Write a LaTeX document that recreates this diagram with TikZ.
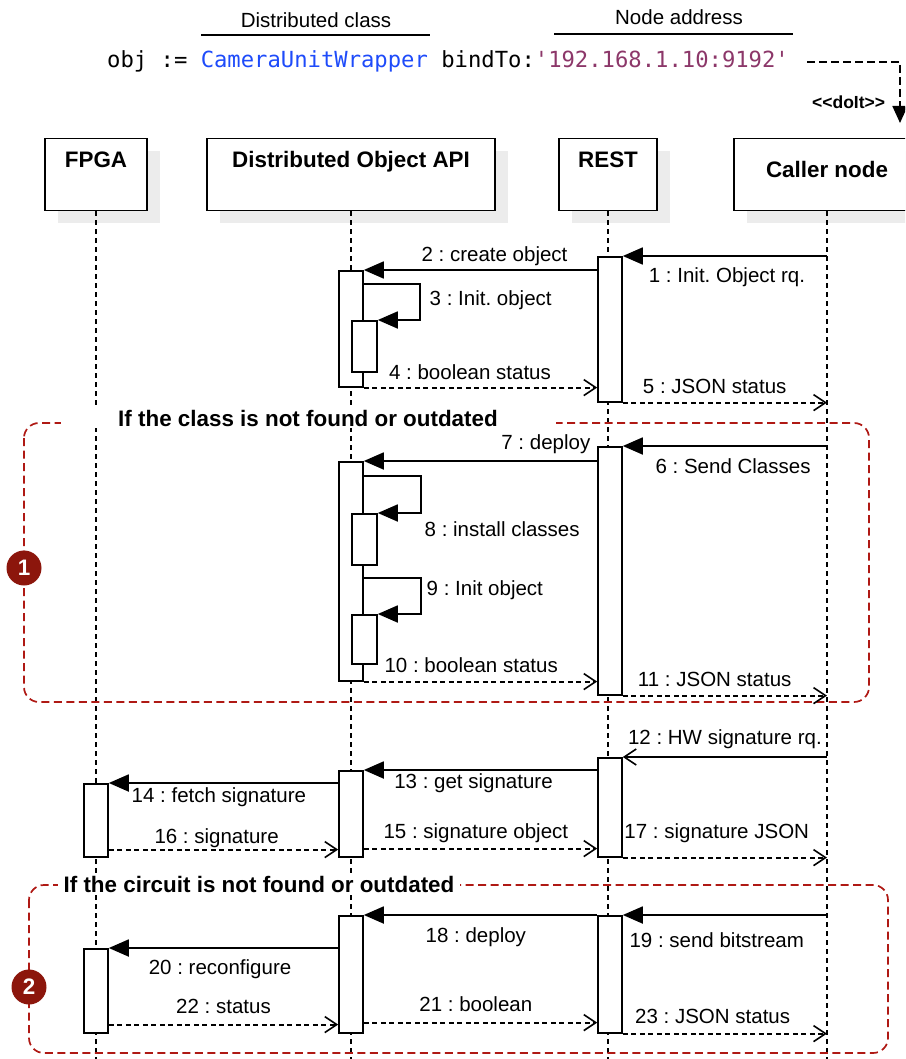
\documentclass[tikz,border=0pt]{standalone}
\usepackage{fontspec}
\setmainfont{Liberation Sans}
\setmonofont{DejaVu Sans Mono}
\usetikzlibrary{arrows.meta,shadows,calc}
\definecolor{clsB}{RGB}{30,75,250}
\definecolor{addrP}{RGB}{140,55,105}
\definecolor{frmR}{RGB}{175,25,20}
\definecolor{bdgR}{RGB}{140,22,12}
\definecolor{shdG}{RGB}{236,236,236}
\newcommand{\lblfont}{\fontsize{20.5}{24}\selectfont}
\newcommand{\hdfont}{\fontsize{22.4}{26}\selectfont\bfseries}
\newcommand{\codefont}{\fontsize{22.2}{26}\selectfont\ttfamily}
\frenchspacing

\begin{document}
\begin{tikzpicture}[
  x=1pt, y=-1pt,
  hdbox/.style={draw, line width=1.2pt, fill=white, font=\hdfont, anchor=north, inner xsep=0pt, inner ysep=0pt,
                text height=29pt, text depth=43pt,
                drop shadow={shadow xshift=13pt, shadow yshift=-12pt, fill=shdG, opacity=1}},
  life/.style={line width=1.3pt, dash pattern=on 5pt off 4pt},
  bar/.style={draw, line width=1.6pt, fill=white, minimum width=24pt, inner sep=0pt, anchor=north},
  nest/.style={bar, minimum width=25pt},
  call/.style={line width=1.8pt, -{Triangle[length=20pt,width=17pt]}},
  ask/.style={line width=1.8pt, -{Straight Barb[length=12pt,width=16pt,line width=1.6pt]}},
  ret/.style={line width=1.8pt, dash pattern=on 5pt off 3.5pt, -{Straight Barb[length=12pt,width=16pt,line width=1.6pt]}},
  lbl/.style={font=\lblfont, inner sep=0pt},
  frm/.style={draw=frmR, line width=1.7pt, dash pattern=on 8pt off 4.5pt, rounded corners=15pt},
  ftitle/.style={font=\hdfont, fill=white, inner xsep=0pt, inner ysep=2pt, anchor=base},
  badge/.style={circle, fill=bdgR, text=white, font=\hdfont, minimum size=35pt, inner sep=0pt},
  uline/.style={line width=1.8pt},
]
\useasboundingbox (0,0) rectangle (905,1059);
\clip (0,0) rectangle (905,1059);

% ---------- code line ----------
\node[lbl] (dcls) at (316,20) {Distributed class};
\draw[uline] (201,35) -- (430,35);
\node[lbl] (addr) at (679,17) {Node address};
\draw[uline] (554,34) -- (793,34);
\node[font=\codefont, anchor=base west, inner sep=0pt] (code) at (107,68)
  {obj := \textcolor{clsB}{CameraUnitWrapper} bindTo:\textcolor{addrP}{'192.168.1.10:9192'}};
\coordinate (doit) at (900,123);
\draw[line width=1.8pt, dash pattern=on 8pt off 4pt, -{Triangle[length=17pt,width=15pt]}]
  ($(code.east)+(18,0)$) -| node[pos=0.83, anchor=east, xshift=-14pt, font=\fontsize{17.5}{20}\selectfont\bfseries, inner sep=0pt]
  {\hbox{<}\hbox{<}doIt\hbox{>}\hbox{>}} (doit);

% ---------- lifelines ----------
\node[hdbox, minimum width=102pt] (fpga) at (96,138) {FPGA};
\node[hdbox, minimum width=288pt] (doa) at (351,138) {Distributed Object API};
\node[hdbox, minimum width=98pt] (rest) at (608,138) {REST};
\node[hdbox, minimum width=186pt, text height=39pt, text depth=33pt] (caller) at (827,138) {Caller node};
\coordinate (bot) at (0,1059);
\foreach \n in {fpga,doa,rest,caller}
  \draw[life] (\n.south) -- (\n.south |- bot);

% ---------- fragments ----------
\draw[frm] (24,423) rectangle (869,702);
\node[ftitle, minimum width=495pt] (t1) at (308,426) {If the class is not found or outdated};
\node[badge] (b1) at (24,568) {1};
\draw[frm] (29,885) rectangle (888,1053);
\node[ftitle, minimum width=402pt] (t2) at (259,892) {If the circuit is not found or outdated};
\node[badge] (b2) at (29,987) {2};

% ---------- activations ----------
\node[bar, minimum height=145pt] (r1) at (610,256) {};
\node[bar, minimum height=116pt] (d1) at (351,270) {};
\node[nest, minimum height=51pt] (d1a) at (364.5,320) {};
\node[bar, minimum height=248pt] (r2) at (610,446) {};
\node[bar, minimum height=219pt] (d2) at (351,461) {};
\node[nest, minimum height=51pt] (d2a) at (364.5,513) {};
\node[nest, minimum height=49pt] (d2b) at (364.5,614) {};
\node[bar, minimum height=99pt] (r3) at (610,757) {};
\node[bar, minimum height=86pt] (d3) at (351,770) {};
\node[bar, minimum height=73pt] (f3) at (96,783) {};
\node[bar, minimum height=117pt] (r4) at (610,915) {};
\node[bar, minimum height=117pt] (d4) at (351,915) {};
\node[bar, minimum height=84pt] (f4) at (96,948) {};

% ---------- messages ----------
\draw[call] (r1.north east -| caller.south) -- node[lbl, pos=0.49, yshift=-21pt] {1 : Init. Object rq.} (r1.north east);
\draw[call] (d1.north east -| r1.west) -- node[lbl, pos=0.44, yshift=14pt] {2 : create object} (d1.north east);
\draw[call] ($(d1.east |- d1a.north)+(0,-36)$) -- ++(56,0) |- node[lbl, pos=0.2, anchor=west, xshift=9pt, yshift=-2pt] {3 : Init. object} (d1a.north east);
\draw[ret] (d1.south east) -- node[lbl, pos=0.455, yshift=15pt] {4 : boolean status} (d1.south east -| r1.west);
\draw[ret] (r1.south east) -- node[lbl, pos=0.45, yshift=16pt] {5 : JSON status} (r1.south east -| caller.south);

\draw[call] (r2.north east -| caller.south) -- node[lbl, pos=0.46, yshift=-20pt] {6 : Send Classes} (r2.north east);
\draw[call] (d2.north east -| r2.west) -- node[lbl, pos=0.22, yshift=17pt] {7 : deploy} (d2.north east);
\draw[call] ($(d2.east |- d2a.north)+(0,-37)$) -- ++(57,0) |- node[lbl, pos=0.5, anchor=west, xshift=3pt, yshift=-16pt] {8 : install classes} (d2a.north east);
\draw[call] ($(d2.east |- d2b.north)+(0,-36)$) -- ++(57,0) |- node[lbl, pos=0.14, anchor=west, xshift=5pt, yshift=-2pt] {9 : Init object} (d2b.north east);
\draw[ret] (d2.south east) -- node[lbl, pos=0.46, yshift=16pt] {10 : boolean status} (d2.south east -| r2.west);
\draw[ret] (r2.south east) -- node[lbl, pos=0.45, yshift=16pt] {11 : JSON status} (r2.south east -| caller.south);

\draw[ask] (r3.north east -| caller.south) -- node[lbl, pos=0.5, yshift=18pt] {12 : HW signature rq.} (r3.north east);
\draw[call] (d3.north east -| r3.west) -- node[lbl, pos=0.53, yshift=-13pt] {13 : get signature} (d3.north east);
\draw[call] (f3.north east -| d3.west) -- node[lbl, pos=0.52, yshift=-14pt] {14 : fetch signature} (f3.north east);
\draw[ret] ($(f3.south east)+(0,-8)$) -- node[lbl, pos=0.47, yshift=11pt] {16 : signature} ($(f3.south east -| d3.west)+(0,-8)$);
\draw[ret] ($(d3.south east)+(0,-9)$) -- node[lbl, pos=0.48, yshift=15pt] {15 : signature object} ($(d3.south east -| r3.west)+(0,-9)$);
\draw[ret] (r3.south east) -- node[lbl, pos=0.46, yshift=24pt] {17 : signature JSON} (r3.south east -| caller.south);

\draw[call] (r4.north east -| caller.south) -- node[lbl, pos=0.54, yshift=-25pt] {19 : send bitstream} (r4.north east);
\draw[call] (d4.north east -| r4.west) -- node[lbl, pos=0.52, yshift=-22pt] {18 : deploy} (d4.north east);
\draw[call] (f4.north east -| d4.west) -- node[lbl, pos=0.515, yshift=-21pt] {20 : reconfigure} (f4.north east);
\draw[ret] ($(f4.south east)+(0,-9)$) -- node[lbl, pos=0.5, yshift=18pt] {22 : status} ($(f4.south east -| d4.west)+(0,-9)$);
\draw[ret] ($(d4.south east)+(0,-11)$) -- node[lbl, pos=0.48, yshift=18pt] {21 : boolean} ($(d4.south east -| r4.west)+(0,-11)$);
\draw[ret] (r4.south east) -- node[lbl, pos=0.44, yshift=17pt] {23 : JSON status} (r4.south east -| caller.south);

\end{tikzpicture}
\end{document}
